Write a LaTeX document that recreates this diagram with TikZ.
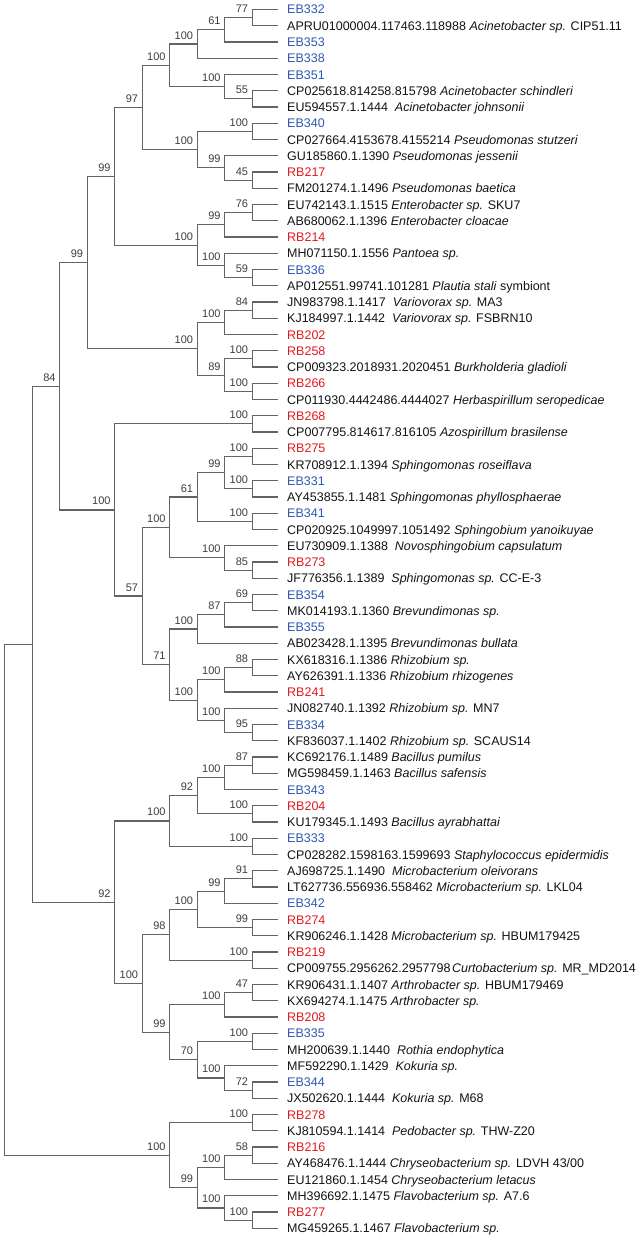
\documentclass[tikz,border=0pt]{standalone}
\usepackage{fontspec}
\setmainfont{Liberation Sans}
\usetikzlibrary{calc}
\definecolor{ebblue}{RGB}{47,88,176}
\definecolor{rbred}{RGB}{224,26,32}
\definecolor{linec}{RGB}{100,100,100}
\definecolor{bootc}{RGB}{60,60,66}
\definecolor{txtc}{RGB}{20,20,20}
\newcommand\lf[3]{%
  \coordinate (l#1) at (278,{9.5+(#1-1)*16.25});
  \node[leaf,text=#2] (t#1) at (287,{9.5+(#1-1)*16.25+4.5}) {#3};}
\newcommand\mkclade[5]{%
  \coordinate (#1m) at ($(#3)!0.5!(#4)$);
  \coordinate (#1) at (X#2 |- #1m);
  \draw[branch] (#3) -- (#1 |- #3) -- (#1 |- #4) -- (#4);
  \node[boot] (#1b) at ([shift={(-4pt,5pt)}]#1) {#5};}
\newcommand\mkcladenl[4]{%
  \coordinate (#1m) at ($(#3)!0.5!(#4)$);
  \coordinate (#1) at (X#2 |- #1m);
  \draw[branch] (#3) -- (#1 |- #3) -- (#1 |- #4) -- (#4);}
\begin{document}
\begin{tikzpicture}[x=1pt,y=-1pt,
  leaf/.style={font=\fontsize{12.5}{14}\selectfont,anchor=base west,inner sep=0pt},
  boot/.style={font=\fontsize{11}{12}\selectfont,text=bootc,anchor=base east,inner sep=0pt},
  branch/.style={draw=linec,line width=1.1pt}]
\useasboundingbox (0,0) rectangle (638,1239);
\foreach \k in {0,...,9} \coordinate (X\k) at ({4.7+27.5*\k},0);
\lf{1}{ebblue}{EB332}
\lf{2}{txtc}{APRU01000004.117463.118988 \textit{Acinetobacter sp.} CIP51.11}
\lf{3}{ebblue}{EB353}
\lf{4}{ebblue}{EB338}
\lf{5}{ebblue}{EB351}
\lf{6}{txtc}{CP025618.814258.815798 \textit{Acinetobacter schindleri}}
\lf{7}{txtc}{EU594557.1.1444~ \textit{Acinetobacter johnsonii}}
\lf{8}{ebblue}{EB340}
\lf{9}{txtc}{CP027664.4153678.4155214 \textit{Pseudomonas stutzeri}}
\lf{10}{txtc}{GU185860.1.1390 \textit{Pseudomonas jessenii}}
\lf{11}{rbred}{RB217}
\lf{12}{txtc}{FM201274.1.1496 \textit{Pseudomonas baetica}}
\lf{13}{txtc}{EU742143.1.1515 \textit{Enterobacter sp.} SKU7}
\lf{14}{txtc}{AB680062.1.1396 \textit{Enterobacter cloacae}}
\lf{15}{rbred}{RB214}
\lf{16}{txtc}{MH071150.1.1556 \textit{Pantoea sp.}}
\lf{17}{ebblue}{EB336}
\lf{18}{txtc}{AP012551.99741.101281 \textit{Plautia stali} symbiont}
\lf{19}{txtc}{JN983798.1.1417~ \textit{Variovorax sp.} MA3}
\lf{20}{txtc}{KJ184997.1.1442~ \textit{Variovorax sp.} FSBRN10}
\lf{21}{rbred}{RB202}
\lf{22}{rbred}{RB258}
\lf{23}{txtc}{CP009323.2018931.2020451 \textit{Burkholderia gladioli}}
\lf{24}{rbred}{RB266}
\lf{25}{txtc}{CP011930.4442486.4444027 \textit{Herbaspirillum seropedicae}}
\lf{26}{rbred}{RB268}
\lf{27}{txtc}{CP007795.814617.816105 \textit{Azospirillum brasilense}}
\lf{28}{rbred}{RB275}
\lf{29}{txtc}{KR708912.1.1394 \textit{Sphingomonas roseiflava}}
\lf{30}{ebblue}{EB331}
\lf{31}{txtc}{AY453855.1.1481 \textit{Sphingomonas phyllosphaerae}}
\lf{32}{ebblue}{EB341}
\lf{33}{txtc}{CP020925.1049997.1051492 \textit{Sphingobium yanoikuyae}}
\lf{34}{txtc}{EU730909.1.1388~ \textit{Novosphingobium capsulatum}}
\lf{35}{rbred}{RB273}
\lf{36}{txtc}{JF776356.1.1389~ \textit{Sphingomonas sp.} CC-E-3}
\lf{37}{ebblue}{EB354}
\lf{38}{txtc}{MK014193.1.1360 \textit{Brevundimonas sp.}}
\lf{39}{ebblue}{EB355}
\lf{40}{txtc}{AB023428.1.1395 \textit{Brevundimonas bullata}}
\lf{41}{txtc}{KX618316.1.1386 \textit{Rhizobium sp.}}
\lf{42}{txtc}{AY626391.1.1336 \textit{Rhizobium rhizogenes}}
\lf{43}{rbred}{RB241}
\lf{44}{txtc}{JN082740.1.1392 \textit{Rhizobium sp.} MN7}
\lf{45}{ebblue}{EB334}
\lf{46}{txtc}{KF836037.1.1402 \textit{Rhizobium sp.} SCAUS14}
\lf{47}{txtc}{KC692176.1.1489 \textit{Bacillus pumilus}}
\lf{48}{txtc}{MG598459.1.1463 \textit{Bacillus safensis}}
\lf{49}{ebblue}{EB343}
\lf{50}{rbred}{RB204}
\lf{51}{txtc}{KU179345.1.1493 \textit{Bacillus ayrabhattai}}
\lf{52}{ebblue}{EB333}
\lf{53}{txtc}{CP028282.1598163.1599693 \textit{Staphylococcus epidermidis}}
\lf{54}{txtc}{AJ698725.1.1490~ \textit{Microbacterium oleivorans}}
\lf{55}{txtc}{LT627736.556936.558462 \textit{Microbacterium sp.} LKL04}
\lf{56}{ebblue}{EB342}
\lf{57}{rbred}{RB274}
\lf{58}{txtc}{KR906246.1.1428 \textit{Microbacterium sp.} HBUM179425}
\lf{59}{rbred}{RB219}
\lf{60}{txtc}{CP009755.2956262.2957798\hspace{0.12em}\textit{Curtobacterium sp.} MR\_MD2014}
\lf{61}{txtc}{KR906431.1.1407 \textit{Arthrobacter sp.} HBUM179469}
\lf{62}{txtc}{KX694274.1.1475 \textit{Arthrobacter sp.}}
\lf{63}{rbred}{RB208}
\lf{64}{ebblue}{EB335}
\lf{65}{txtc}{MH200639.1.1440~ \textit{Rothia endophytica}}
\lf{66}{txtc}{MF592290.1.1429~ \textit{Kokuria sp.}}
\lf{67}{ebblue}{EB344}
\lf{68}{txtc}{JX502620.1.1444~ \textit{Kokuria sp.} M68}
\lf{69}{rbred}{RB278}
\lf{70}{txtc}{KJ810594.1.1414~ \textit{Pedobacter sp.} THW-Z20}
\lf{71}{rbred}{RB216}
\lf{72}{txtc}{AY468476.1.1444 \textit{Chryseobacterium sp.} LDVH 43/00}
\lf{73}{txtc}{EU121860.1.1454 \textit{Chryseobacterium letacus}}
\lf{74}{txtc}{MH396692.1.1475 \textit{Flavobacterium sp.} A7.6}
\lf{75}{rbred}{RB277}
\lf{76}{txtc}{MG459265.1.1467 \textit{Flavobacterium sp.}}
% Gammaproteobacteria
\mkclade{a77}{9}{l1}{l2}{77}
\mkclade{a61}{8}{a77}{l3}{61}
\mkclade{a100a}{7}{a61}{l4}{100}
\mkclade{a55}{9}{l6}{l7}{55}
\mkclade{a100b}{8}{l5}{a55}{100}
\mkclade{a100c}{6}{a100a}{a100b}{100}
\mkclade{p100a}{9}{l8}{l9}{100}
\mkclade{p45}{9}{l11}{l12}{45}
\mkclade{p99}{8}{l10}{p45}{99}
\mkclade{p100b}{7}{p100a}{p99}{100}
\mkclade{g97}{5}{a100c}{p100b}{97}
\mkclade{e76}{9}{l13}{l14}{76}
\mkclade{e99}{8}{e76}{l15}{99}
\mkclade{e59}{9}{l17}{l18}{59}
\mkclade{e100a}{8}{l16}{e59}{100}
\mkclade{e100b}{7}{e99}{e100a}{100}
\mkclade{g99a}{4}{g97}{e100b}{99}
% Betaproteobacteria
\mkclade{b84}{9}{l19}{l20}{84}
\mkclade{b100a}{8}{b84}{l21}{100}
\mkclade{b100b}{9}{l22}{l23}{100}
\mkclade{b100c}{9}{l24}{l25}{100}
\mkclade{b89}{8}{b100b}{b100c}{89}
\mkclade{b100d}{7}{b100a}{b89}{100}
\mkclade{g99b}{3}{g99a}{b100d}{99}
% Alphaproteobacteria
\mkclade{r100a}{9}{l26}{l27}{100}
\mkclade{s100a}{9}{l28}{l29}{100}
\mkclade{s100b}{9}{l30}{l31}{100}
\mkclade{s99}{8}{s100a}{s100b}{99}
\mkclade{s100c}{9}{l32}{l33}{100}
\mkclade{s61}{7}{s99}{s100c}{61}
\mkclade{s85}{9}{l35}{l36}{85}
\mkclade{s100d}{8}{l34}{s85}{100}
\mkclade{s100e}{6}{s61}{s100d}{100}
\mkclade{v69}{9}{l37}{l38}{69}
\mkclade{v87}{8}{v69}{l39}{87}
\mkclade{v100a}{7}{v87}{l40}{100}
\mkclade{z88}{9}{l41}{l42}{88}
\mkclade{z100a}{8}{z88}{l43}{100}
\mkclade{z95}{9}{l45}{l46}{95}
\mkclade{z100b}{8}{l44}{z95}{100}
\mkclade{z100c}{7}{z100a}{z100b}{100}
\mkclade{v71}{6}{v100a}{z100c}{71}
\mkclade{s57}{5}{s100e}{v71}{57}
\mkclade{r100b}{4}{r100a}{s57}{100}
\mkclade{g84}{2}{g99b}{r100b}{84}
% Firmicutes
\mkclade{f87}{9}{l47}{l48}{87}
\mkclade{f100a}{8}{f87}{l49}{100}
\mkclade{f100b}{9}{l50}{l51}{100}
\mkclade{f92}{7}{f100a}{f100b}{92}
\mkclade{f100c}{9}{l52}{l53}{100}
\mkclade{f100d}{6}{f92}{f100c}{100}
% Actinobacteria
\mkclade{m91}{9}{l54}{l55}{91}
\mkclade{m99}{8}{m91}{l56}{99}
\mkclade{m99b}{9}{l57}{l58}{99}
\mkclade{m100a}{7}{m99}{m99b}{100}
\mkclade{m100b}{9}{l59}{l60}{100}
\mkclade{m98}{6}{m100a}{m100b}{98}
\mkclade{k47}{9}{l61}{l62}{47}
\mkclade{k100a}{8}{k47}{l63}{100}
\mkclade{k100b}{9}{l64}{l65}{100}
\mkclade{k72}{9}{l67}{l68}{72}
\mkclade{k100c}{8}{l66}{k72}{100}
\mkclade{k70}{7}{k100b}{k100c}{70}
\mkclade{k99}{6}{k100a}{k70}{99}
\mkclade{m100c}{5}{m98}{k99}{100}
\mkclade{f92b}{4}{f100d}{m100c}{92}
\mkcladenl{n1}{1}{g84}{f92b}
% Bacteroidetes
\mkclade{c100a}{9}{l69}{l70}{100}
\mkclade{c58}{9}{l71}{l72}{58}
\mkclade{c100b}{8}{c58}{l73}{100}
\mkclade{c100c}{9}{l75}{l76}{100}
\mkclade{c100d}{8}{l74}{c100c}{100}
\mkclade{c99}{7}{c100b}{c100d}{99}
\mkclade{c100e}{6}{c100a}{c99}{100}
\mkcladenl{root}{0}{n1}{c100e}
\end{tikzpicture}
\end{document}
